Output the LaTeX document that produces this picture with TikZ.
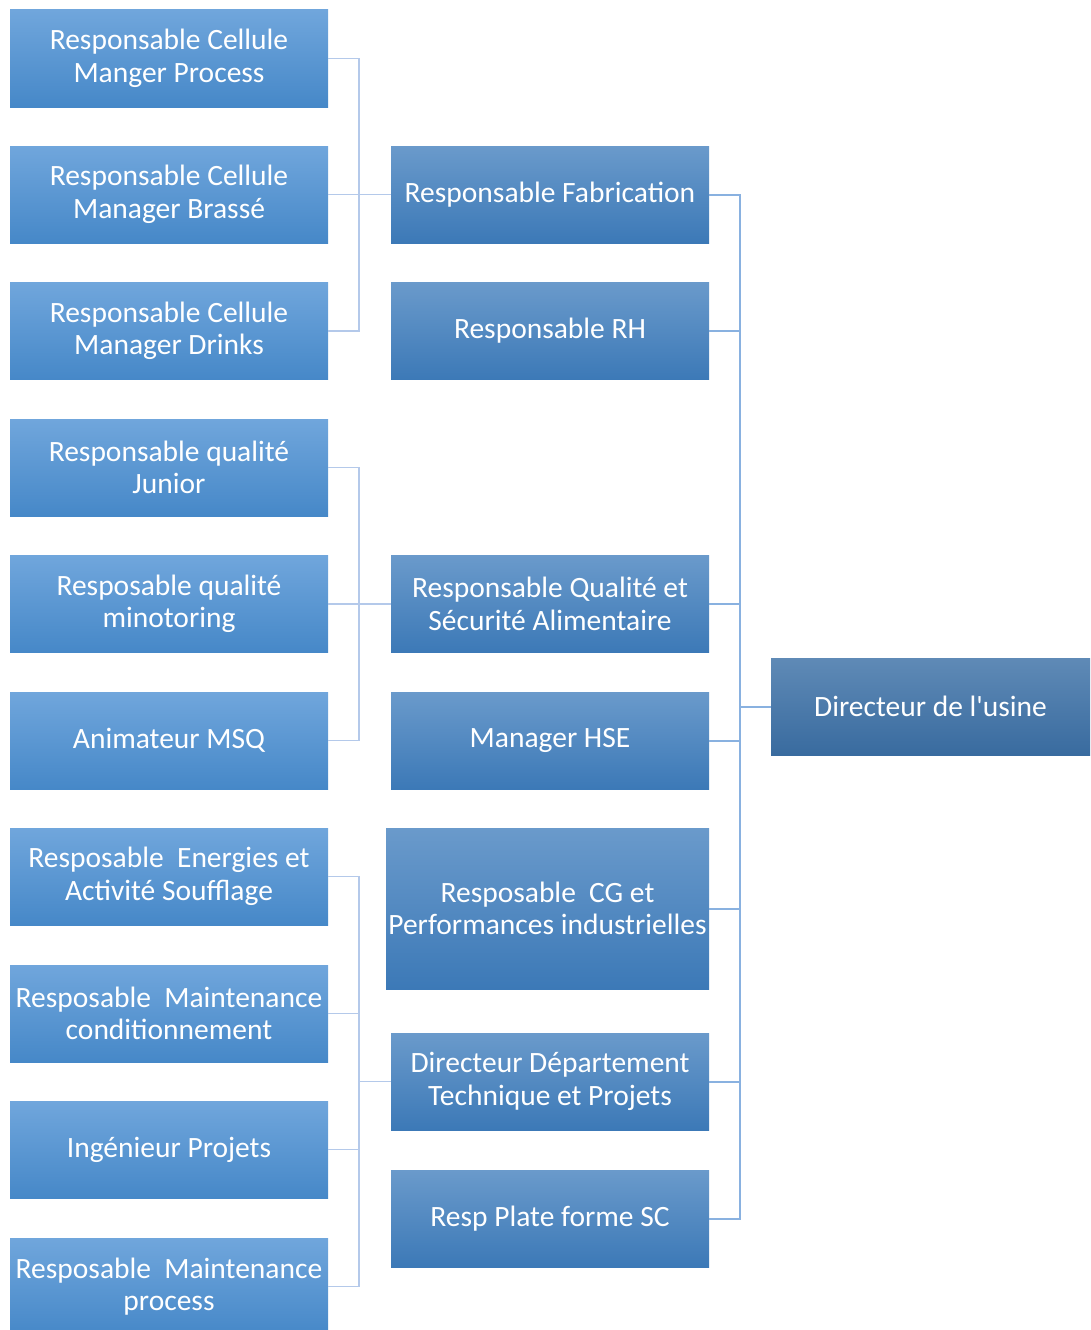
\documentclass[tikz,border=0pt]{standalone}
\usepackage{fontspec}
\newfontfamily\calibri{Carlito}
\begin{document}
\begin{tikzpicture}[x=1pt,y=-1pt,
  base/.style={rectangle, inner sep=0pt, text=white, align=center,
    font=\calibri\fontsize{29.5}{32.5}\selectfont},
  lbox/.style={base, minimum width=318pt, minimum height=97pt,
    top color=lefttop, bottom color=leftbot},
  mbox/.style={base, minimum width=318pt, minimum height=97pt,
    top color=midtop, bottom color=midbot},
  dbox/.style={base, minimum width=319pt, minimum height=97pt,
    top color=dirtop, bottom color=dirbot},
  lconn/.style={draw=lline, line width=1.4pt},
  rconn/.style={draw=rline, line width=2pt}
]
\definecolor{lefttop}{HTML}{70A6DC}
\definecolor{leftbot}{HTML}{4688C8}
\definecolor{midtop}{HTML}{6A9ACB}
\definecolor{midbot}{HTML}{3C79B7}
\definecolor{dirtop}{HTML}{5F8AB6}
\definecolor{dirbot}{HTML}{396B9F}
\definecolor{lline}{HTML}{B4C9EA}
\definecolor{rline}{HTML}{89B1E0}

\useasboundingbox (0,0) rectangle (1090,1330);

% left column
\node[lbox] (l1) at (169,58.5) {Responsable Cellule\\Manger Process};
\node[lbox] (l2) at (169,194.5) {Responsable Cellule\\Manager Brassé};
\node[lbox] (l3) at (169,331) {Responsable Cellule\\Manager Drinks};
\node[lbox] (l4) at (169,467.5) {Responsable qualité\\Junior};
\node[lbox] (l5) at (169,604) {Resposable qualité\\minotoring};
\node[lbox] (l6) at (169,740.5) {Animateur MSQ};
\node[lbox] (l7) at (169,876.5) {Resposable~~Energies et\\Activité Soufflage};
\node[lbox] (l8) at (169,1013.5) {Resposable~~Maintenance\\conditionnement};
\node[lbox] (l9) at (169,1149.5) {Ingénieur Projets};
\node[lbox] (l10) at (169,1286.5) {Resposable~~Maintenance\\process};

% middle column
\node[mbox] (fab) at (550,194.5) {Responsable Fabrication};
\node[mbox] (rh) at (550,331) {Responsable RH};
\node[mbox] (qsa) at (550,604) {Responsable Qualité et\\Sécurité Alimentaire};
\node[mbox] (hse) at (550,740.5) {Manager HSE};
\node[mbox, minimum width=323pt, minimum height=161pt] (cg) at (547.5,908.5) {Resposable~~CG et\\Performances industrielles};
\node[mbox] (dtp) at (550,1081.5) {Directeur Département\\Technique et Projets};
\node[mbox] (sc) at (550,1218.5) {Resp Plate forme SC};

% plant director
\node[dbox] (dir) at (930.5,706.5) {Directeur de l\symbol{39}usine};

% junction points
\coordinate (j1) at (359,194.5);
\coordinate (j2) at (359,604);
\coordinate (j3) at (359,1081.5);
\coordinate (j0) at (740,706.5);

% left-hand branches
\draw[lconn] (l1.east) -| (j1);
\draw[lconn] (l3.east) -| (j1);
\draw[lconn] (l2.east) -- (fab.west);
\draw[lconn] (l4.east) -| (j2);
\draw[lconn] (l6.east) -| (j2);
\draw[lconn] (l5.east) -- (qsa.west);
\draw[lconn] (l7.east) -| (j3);
\draw[lconn] (l8.east) -| (j3);
\draw[lconn] (l9.east) -| (j3);
\draw[lconn] (l10.east) -| (j3);
\draw[lconn] (j3) -- (dtp.west);

% right-hand branches
\draw[rconn] (fab.east) -| (j0);
\draw[rconn] (rh.east) -| (j0);
\draw[rconn] (qsa.east) -| (j0);
\draw[rconn] (hse.east) -| (j0);
\draw[rconn] (cg.east) -| (j0);
\draw[rconn] (dtp.east) -| (j0);
\draw[rconn] (sc.east) -| (j0);
\draw[rconn] (j0) -- (dir.west);
\end{tikzpicture}
\end{document}
